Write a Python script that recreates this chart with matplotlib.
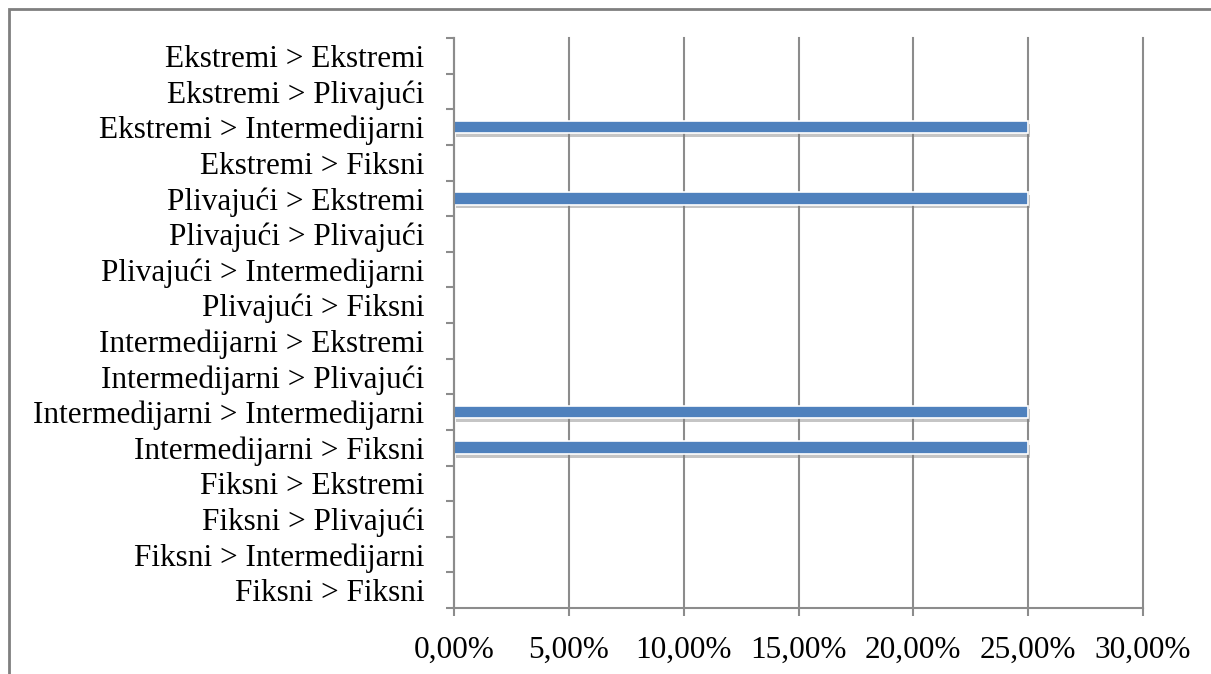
import matplotlib
matplotlib.use("Agg")
import matplotlib.pyplot as plt
import matplotlib.patheffects as pe
from matplotlib.patches import Rectangle
from matplotlib.ticker import FuncFormatter, FixedLocator
import numpy as np

categories = [
    "Ekstremi > Ekstremi",
    "Ekstremi > Plivajući",
    "Ekstremi > Intermedijarni",
    "Ekstremi > Fiksni",
    "Plivajući > Ekstremi",
    "Plivajući > Plivajući",
    "Plivajući > Intermedijarni",
    "Plivajući > Fiksni",
    "Intermedijarni > Ekstremi",
    "Intermedijarni > Plivajući",
    "Intermedijarni > Intermedijarni",
    "Intermedijarni > Fiksni",
    "Fiksni > Ekstremi",
    "Fiksni > Plivajući",
    "Fiksni > Intermedijarni",
    "Fiksni > Fiksni",
]
values = [0, 0, 0.25, 0, 0.25, 0, 0, 0, 0, 0, 0.25, 0.25, 0, 0, 0, 0]
xticks = [0, 0.05, 0.10, 0.15, 0.20, 0.25, 0.30]

plt.rcParams['font.family'] = ['Liberation Serif', 'DejaVu Serif']

W, H = 1211, 674
fig = plt.figure(figsize=(W / 100, H / 100), dpi=100)
ax = fig.add_axes([454 / W, 1 - 608 / H, (1143 - 454) / W, (608 - 38) / H])

n = len(categories)
pos = np.arange(n)[::-1]
bars = ax.barh(pos, values, height=0.36, color="#4F81BD", edgecolor="white",
               linewidth=1.2, zorder=3)
for b, v in zip(bars, values):
    if v == 0:
        b.set_linewidth(0)
        continue
    b.set_path_effects([pe.SimplePatchShadow(offset=(1.5, -2.5), shadow_rgbFace="#808080", alpha=0.45),
                        pe.Normal()])

ax.set_xlim(0, 0.30)
ax.set_ylim(-0.5, n - 0.5)
ax.xaxis.set_major_locator(FixedLocator(xticks))
ax.xaxis.set_major_formatter(FuncFormatter(lambda v, p: f"{v*100:.2f}%".replace(".", ",")))
ax.set_yticks(pos)
ax.set_yticklabels(categories)
ax.set_yticks(np.arange(n + 1) - 0.5, minor=True)

ax.grid(axis="x", color="#8C8C8C", linewidth=1.5, zorder=0)
ax.set_axisbelow(True)
for gl in ax.get_xgridlines():
    gl.set_clip_on(False)
for s in ["top", "right"]:
    ax.spines[s].set_visible(False)
for s in ["left", "bottom"]:
    ax.spines[s].set_color("#8C8C8C")
    ax.spines[s].set_linewidth(1.5)
    ax.spines[s].set_zorder(4)

ax.tick_params(axis="y", which="major", length=0, pad=21.5, labelsize=22.5)
ax.tick_params(axis="y", which="minor", length=6, width=1.5, color="#8C8C8C", direction="out")
ax.tick_params(axis="x", which="major", length=6, width=1.5, color="#8C8C8C", pad=14, labelsize=22.5)

fig.patches.append(Rectangle((9 / W, -0.1), 1.2, 1 - 9 / H + 0.1, transform=fig.transFigure,
                             fill=False, edgecolor="#7F7F7F", linewidth=2))

fig.savefig("out.png", dpi=100)
